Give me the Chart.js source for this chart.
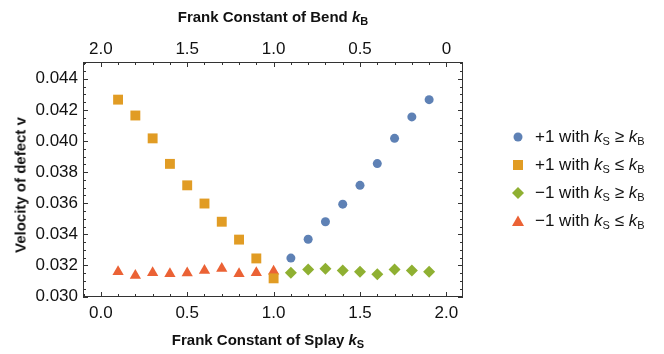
<!DOCTYPE html>
<html>
<head>
<meta charset="utf-8">
<script src="https://cdn.jsdelivr.net/npm/chart.js@4.4.1/dist/chart.umd.min.js"></script>
<style>
  html, body { margin: 0; padding: 0; background: #fff; }
  #wrap { position: relative; width: 664px; height: 354px; font-family: "Liberation Sans", Arial, sans-serif; color: #111; }
  #chart { position: absolute; left: 0; top: 0; }
  .title { position: absolute; font-weight: bold; font-size: 15px; white-space: nowrap; }
  .title sub, .legend sub { font-size: 11px; vertical-align: -3px; line-height: 0; }
  .legend { position: absolute; left: 512px; font-size: 17px; white-space: nowrap; }
  .legend div { height: 28px; line-height: 28px; }
  .legend svg { vertical-align: -1px; margin-right: 11px; }
</style>
</head>
<body>
<div id="wrap">
  <canvas id="chart" width="664" height="354"></canvas>
  <div class="title" id="topTitle" style="left:0;width:546px;text-align:center;top:8px;">Frank Constant of Bend <i>k</i><sub>B</sub></div>
  <div class="title" id="bottomTitle" style="left:0;width:536px;text-align:center;top:331px;">Frank Constant of Splay <i>k</i><sub>S</sub></div>
  <div class="title" id="yTitle" style="left:20px;top:185px;transform:translate(-50%,-50%) rotate(-90deg);">Velocity of defect v</div>
  <div class="legend" style="top:123px;">
    <div><svg width="12" height="12"><circle cx="6" cy="6" r="4.5" fill="#5E81B5"/></svg>+1 with <i>k</i><sub>S</sub> ≥ <i>k</i><sub>B</sub></div>
    <div><svg width="12" height="12"><rect x="1" y="1" width="10" height="10" fill="#E19C24"/></svg>+1 with <i>k</i><sub>S</sub> ≤ <i>k</i><sub>B</sub></div>
    <div><svg width="12" height="12"><polygon points="6,0 12,6 6,12 0,6" fill="#8FB032"/></svg>−1 with <i>k</i><sub>S</sub> ≥ <i>k</i><sub>B</sub></div>
    <div><svg width="12" height="12"><polygon points="6,0.5 12,11 0,11" fill="#EB6235"/></svg>−1 with <i>k</i><sub>S</sub> ≤ <i>k</i><sub>B</sub></div>
  </div>
</div>
<script>
// ---------------- data ----------------
const splayHigh = [1.1, 1.2, 1.3, 1.4, 1.5, 1.6, 1.7, 1.8, 1.9];
const splayLow = [0.1, 0.2, 0.3, 0.4, 0.5, 0.6, 0.7, 0.8, 0.9, 1.0];

const plusHigh = [0.03247, 0.03368, 0.03481, 0.03594, 0.03715, 0.03855, 0.04017, 0.04155, 0.04266];
const plusLow = [0.04266, 0.04164, 0.04017, 0.03853, 0.03715, 0.03598, 0.03481, 0.03366, 0.03245, 0.03117];
const minusHigh = [0.03153, 0.03174, 0.03179, 0.03168, 0.0316, 0.03143, 0.03174, 0.03168, 0.0316];
const minusLow = [0.0316, 0.03136, 0.03153, 0.03147, 0.03151, 0.03168, 0.03181, 0.03147, 0.03153, 0.03162];

const seriesNames = ["+1 with kS ≥ kB", "+1 with kS ≤ kB", "−1 with kS ≥ kB", "−1 with kS ≤ kB"];
const colors = ["#5E81B5", "#E19C24", "#8FB032", "#EB6235"];

function pts(xs, ys) {
  return xs.map((x, i) => ({ x: x, y: ys[i] }));
}

// inward frame ticks, Mathematica style
const frameTicks = {
  id: "frameTicks",
  afterDraw(chart) {
    const ctx = chart.ctx;
    const a = chart.chartArea;
    ctx.save();
    ctx.strokeStyle = "#333";
    ctx.lineWidth = 1;
    ctx.strokeRect(a.left + 0.5, a.top + 0.5, a.right - a.left - 1, a.bottom - a.top - 1);
    ctx.beginPath();
    ["x", "x2"].forEach((id) => {
      const s = chart.scales[id];
      s.ticks.forEach((t) => {
        const major = Math.abs(t.value * 2 - Math.round(t.value * 2)) < 1e-6;
        const len = major ? 5 : 3;
        const px = Math.round(s.getPixelForValue(t.value)) + 0.5;
        if (id === "x") { ctx.moveTo(px, a.bottom); ctx.lineTo(px, a.bottom - len); }
        else { ctx.moveTo(px, a.top); ctx.lineTo(px, a.top + len); }
      });
    });
    ["y", "y2"].forEach((id) => {
      const s = chart.scales[id];
      s.ticks.forEach((t) => {
        const major = Math.abs(t.value / 0.002 - Math.round(t.value / 0.002)) < 1e-6;
        const len = major ? 5 : 3;
        const py = Math.round(s.getPixelForValue(t.value)) + 0.5;
        if (id === "y") { ctx.moveTo(a.left, py); ctx.lineTo(a.left + len, py); }
        else { ctx.moveTo(a.right, py); ctx.lineTo(a.right - len, py); }
      });
    });
    ctx.stroke();
    ctx.restore();
  },
};

const tickFont = { family: "'Liberation Sans', Arial, sans-serif", size: 17 };
const xMin = -0.103, xMax = 2.096, yMin = 0.02997, yMax = 0.04508;

function xLabel(v) {
  return Math.abs(v * 2 - Math.round(v * 2)) < 1e-6 ? v.toFixed(1) : "";
}
function topLabel(v) {
  if (Math.abs(v * 2 - Math.round(v * 2)) > 1e-6) return "";
  const b = 2 - v;
  return Math.abs(b) < 1e-6 ? "0" : b.toFixed(1);
}
function yLabel(v) {
  return Math.abs(v / 0.002 - Math.round(v / 0.002)) < 1e-6 ? v.toFixed(3) : "";
}

const noGrid = { display: false, drawTicks: false };

const ctx = document.getElementById("chart").getContext("2d");
const chart = new Chart(ctx, {
  type: "scatter",
  data: {
    datasets: [
      { label: seriesNames[0], data: pts(splayHigh, plusHigh), pointStyle: "circle", pointRadius: 4.5, backgroundColor: colors[0], borderWidth: 0 },
      { label: seriesNames[1], data: pts(splayLow, plusLow), pointStyle: "rect", pointRadius: 7, backgroundColor: colors[1], borderWidth: 0 },
      { label: seriesNames[2], data: pts(splayHigh, minusHigh), pointStyle: "rectRot", pointRadius: 6, backgroundColor: colors[2], borderWidth: 0 },
      { label: seriesNames[3], data: pts(splayLow, minusLow), pointStyle: "triangle", pointRadius: 6.5, backgroundColor: colors[3], borderWidth: 0 },
    ],
  },
  options: {
    responsive: false,
    animation: false,
    layout: { padding: 0 },
    plugins: { legend: { display: false }, tooltip: { enabled: false } },
    scales: {
      x: {
        type: "linear", position: "bottom", min: xMin, max: xMax,
        grid: noGrid, border: { display: false },
        ticks: { stepSize: 0.1, includeBounds: false, autoSkip: false, maxRotation: 0, padding: 6, color: "#111", font: tickFont, callback: xLabel },
        afterFit(s) { s.height = 57; },
      },
      x2: {
        type: "linear", position: "top", min: xMin, max: xMax,
        grid: noGrid, border: { display: false },
        ticks: { stepSize: 0.1, includeBounds: false, autoSkip: false, maxRotation: 0, padding: 2, color: "#111", font: tickFont, callback: topLabel },
        afterFit(s) { s.height = 62; },
      },
      y: {
        type: "linear", position: "left", min: yMin, max: yMax,
        grid: noGrid, border: { display: false },
        ticks: { stepSize: 0.0005, includeBounds: false, autoSkip: false, padding: 5, color: "#111", font: tickFont, callback: yLabel },
        afterFit(s) { s.width = 83; },
      },
      y2: {
        type: "linear", position: "right", min: yMin, max: yMax,
        grid: noGrid, border: { display: false },
        ticks: { stepSize: 0.0005, includeBounds: false, autoSkip: false, callback: () => "" },
        afterFit(s) { s.width = 201; },
      },
    },
  },
  plugins: [frameTicks],
});
</script>
</body>
</html>
